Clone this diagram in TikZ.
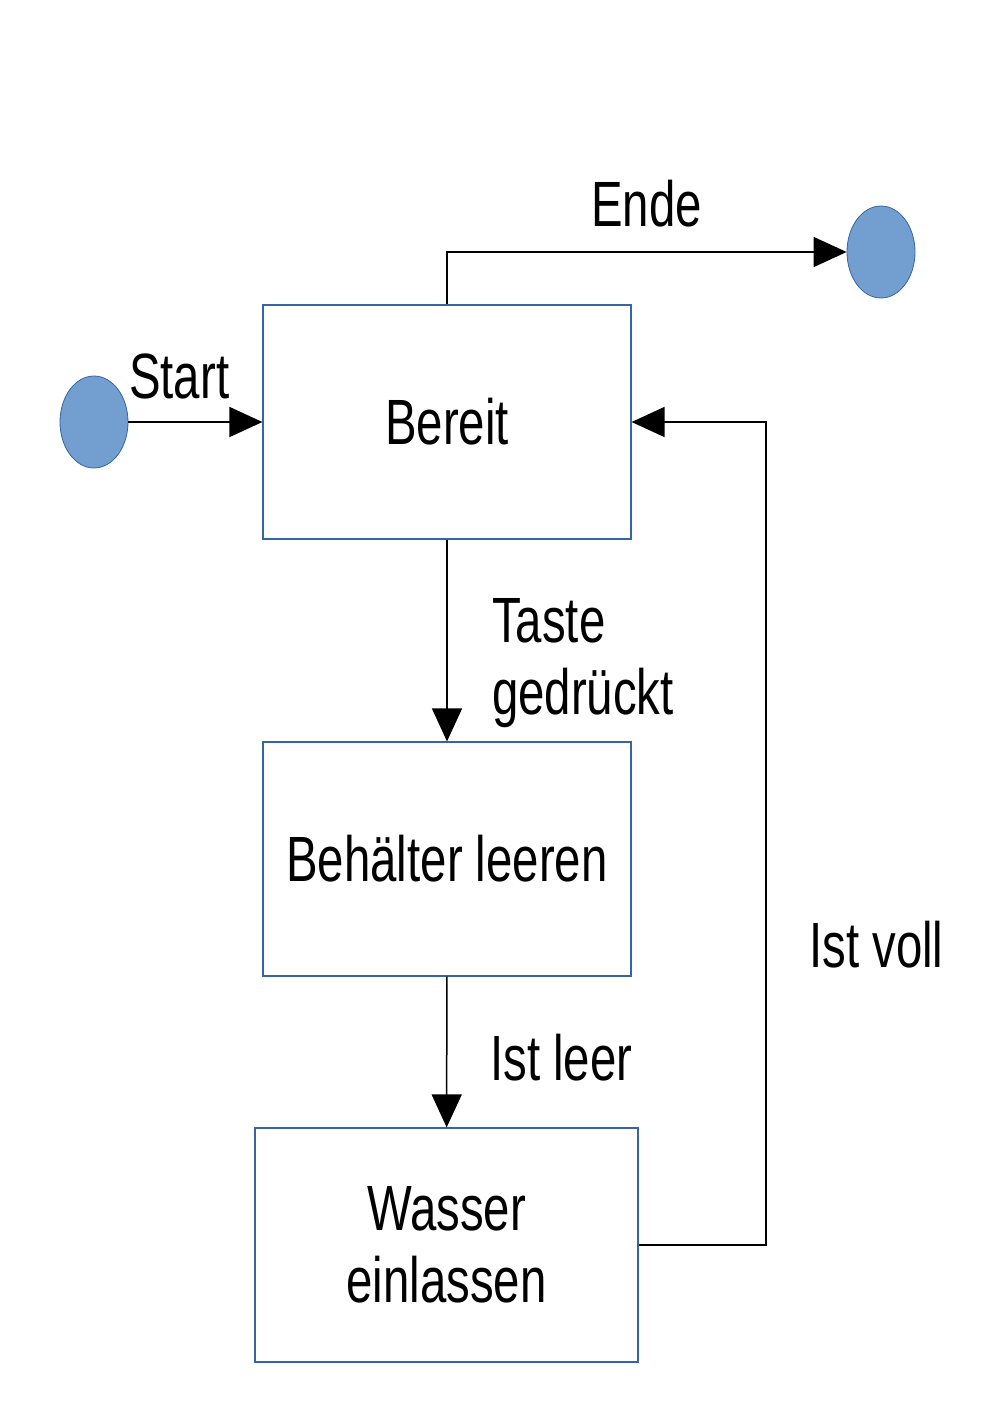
\documentclass[tikz,border=0pt]{standalone}
\usepackage{fontspec}
\setmainfont{Liberation Sans}[FakeStretch=0.74]
\usepackage{tikz}
\usetikzlibrary{shapes.geometric, arrows.meta}
\usepackage{xcolor}
\definecolor{kreisfill}{HTML}{729FCF}
\definecolor{rahmen}{HTML}{3465A4}

\begin{document}
\begin{tikzpicture}[x=1pt, y=-1pt,
    zustand/.style={draw=rahmen, line width=1.2pt, inner sep=0pt,
        minimum height=234pt, align=center, font=\fontsize{64}{72}\selectfont},
    punkt/.style={ellipse, draw=rahmen, fill=kreisfill, line width=0.8pt,
        minimum width=68pt, minimum height=92pt, inner sep=0pt},
    pfeil/.style={line width=1.5pt, -{Triangle[length=33pt, width=30pt]}},
    beschriftung/.style={inner sep=0pt, align=left, font=\fontsize{64}{72}\selectfont}]
    \useasboundingbox (0,0) rectangle (992,1403);

    % Start- und Endpunkt
    \node[punkt] (start) at (94,422) {};
    \node[punkt] (ende) at (881,252) {};

    % Zustaende
    \node[zustand, minimum width=368pt] (bereit) at (447,422) {Bereit};
    \node[zustand, minimum width=368pt] (leeren) at (447,859) {Behälter leeren};
    \node[zustand, minimum width=383pt] (wasser) at (446.5,1245) {Wasser\\einlassen};

    % Uebergaenge
    \draw[pfeil] (start) -- (bereit);
    \draw[pfeil] (bereit.north) |- (ende);
    \draw[pfeil] (bereit) -- (leeren);
    \draw[pfeil] (leeren) -- (wasser);
    \coordinate (knick) at (766,1245);
    \draw[pfeil] (wasser.east) -- (knick) |- (bereit.east);

    % Beschriftungen
    \node[beschriftung, anchor=base west] (lstart) at (129,398) {Start};
    \node[beschriftung, anchor=base west] (lende) at (591,226) {Ende};
    \node[beschriftung, anchor=base west] (ltaste) at (492,714) {Taste\\gedrückt};
    \node[beschriftung, anchor=base west] (lleer) at (490,1080) {Ist leer};
    \node[beschriftung, anchor=base west] (lvoll) at (809,967) {Ist voll};
\end{tikzpicture}
\end{document}
